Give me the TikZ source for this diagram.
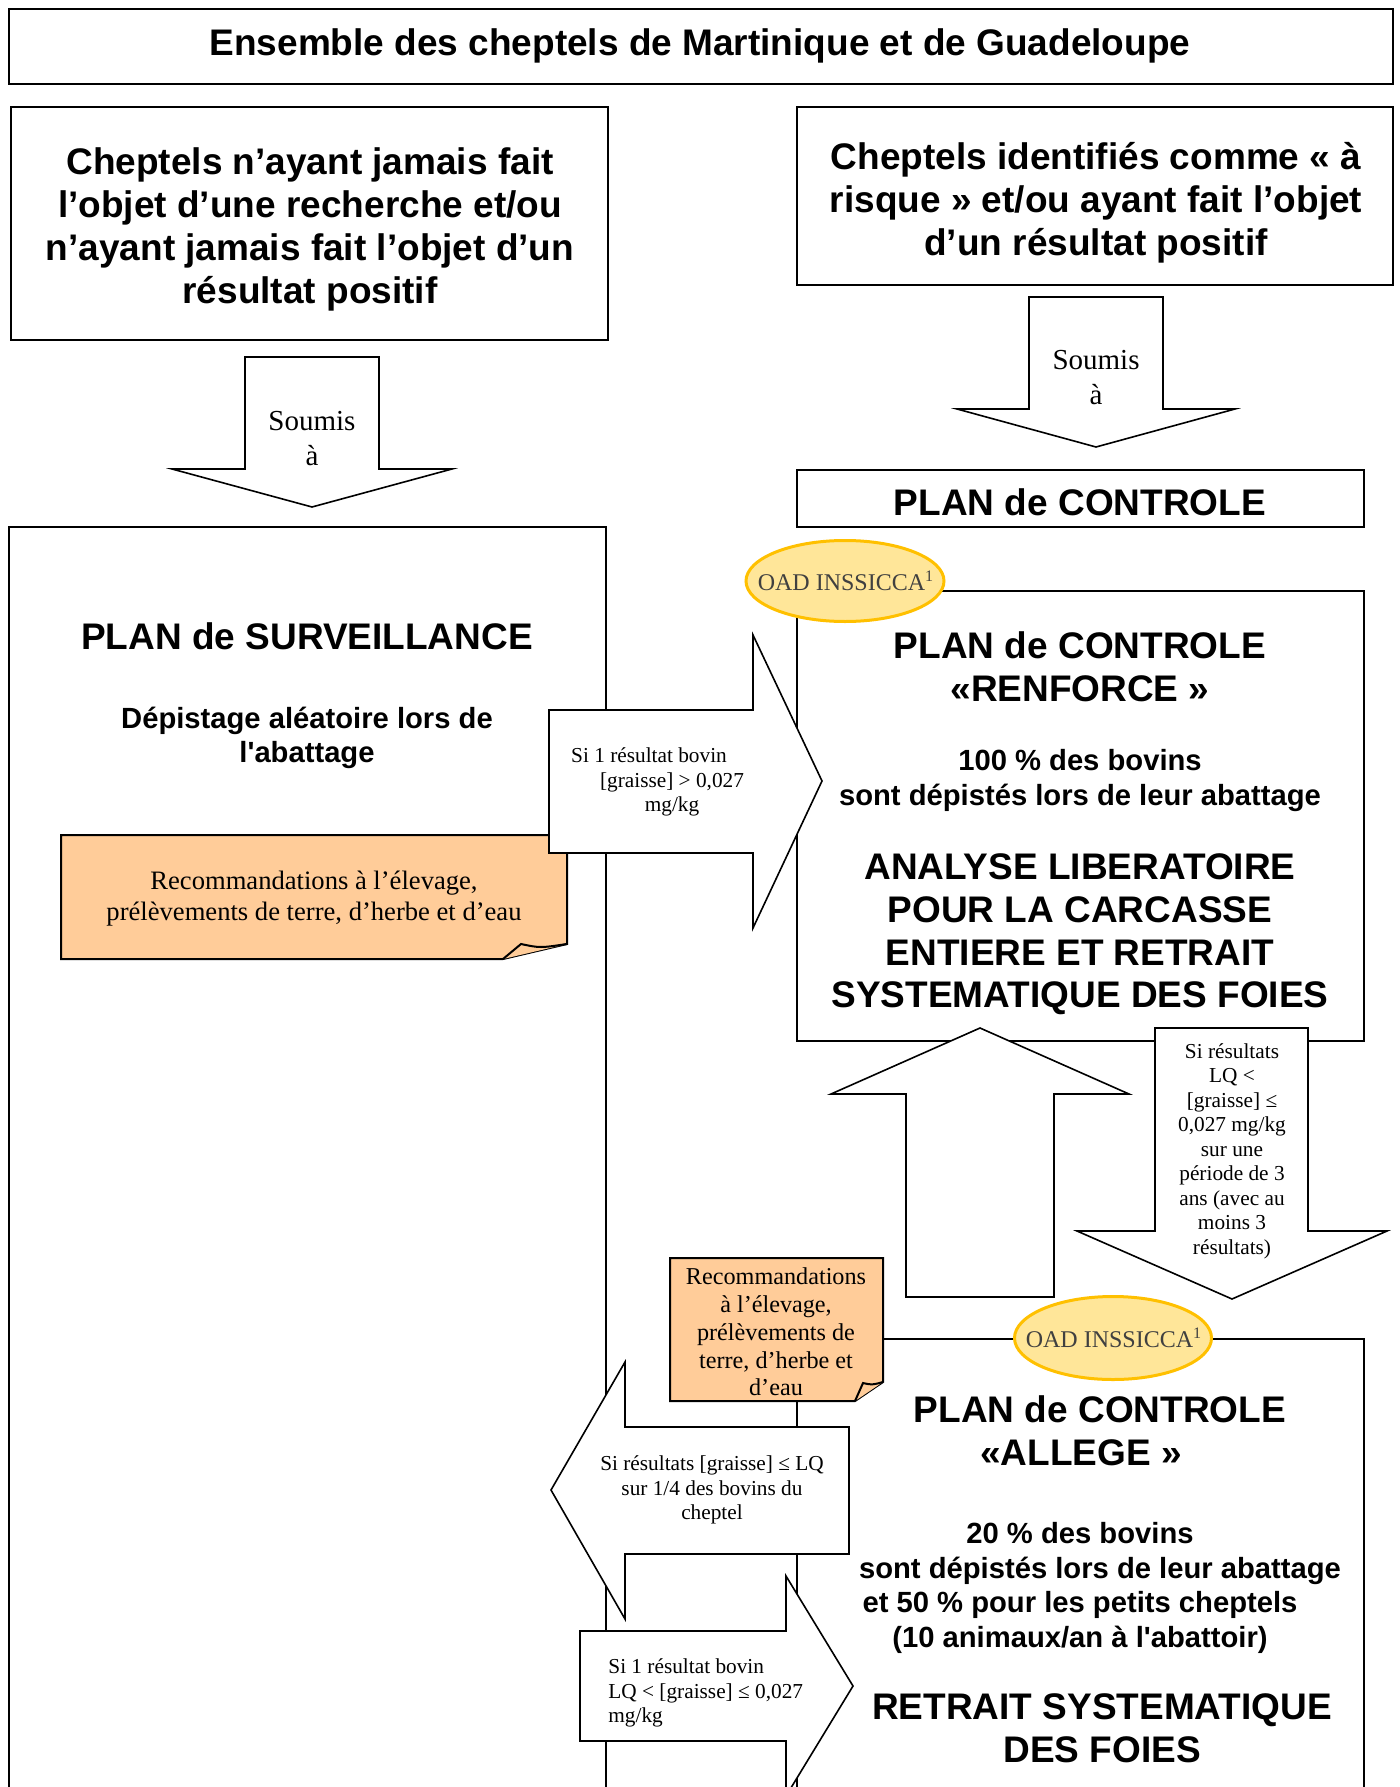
\documentclass[tikz,border=0pt]{standalone}
\usepackage{fontspec}
\setmainfont{Liberation Serif}
\newfontfamily\headfont{Liberation Sans}

\definecolor{noteorange}{HTML}{FFCC99}
\definecolor{oadfill}{HTML}{FFE699}
\definecolor{oadline}{HTML}{FFC000}
\definecolor{oadtext}{HTML}{404040}

\newcommand{\bighead}{\headfont\bfseries\fontsize{18.5}{21.4}\selectfont}
\newcommand{\midhead}{\headfont\bfseries\fontsize{14.6}{17.2}\selectfont}
\newcommand{\soumisfont}{\fontsize{14.5}{17.5}\selectfont}
\newcommand{\notefont}{\fontsize{13.3}{15.5}\selectfont}
\newcommand{\smallnotefont}{\fontsize{12.1}{13.9}\selectfont}
\newcommand{\calloutfont}{\fontsize{10.65}{12.25}\selectfont}

\begin{document}
\begin{tikzpicture}[x=0.5pt, y=-0.5pt,
  box/.style={draw, line width=0.75pt, fill=white},
  note/.style={draw, line width=1pt, fill=noteorange},
  blockarrow/.style={draw, line width=0.8pt, fill=white},
  oad/.style={draw=oadline, line width=1.5pt, fill=oadfill},
  oadlabel/.style={text=oadtext, inner sep=0pt, font=\fontsize{12}{14}\selectfont},
  txt/.style={align=center, inner sep=0pt}]
  \useasboundingbox (0,0) rectangle (1399,1787);
  \clip (0,0) rectangle (1399,1787);

  % top row
  \draw[box] (9,9) rectangle (1393,84);
  \draw[box] (11,107) rectangle (608,340);
  \draw[box] (797,107) rectangle (1393,285);

  % soumis arrows
  \draw[blockarrow] (245,357) -- (379,357) -- (379,469) -- (452,469) -- (312,507)
    -- (172,469) -- (245,469) -- cycle;
  \draw[blockarrow] (1029,297) -- (1163,297) -- (1163,409) -- (1235,409) -- (1096,447)
    -- (957,409) -- (1029,409) -- cycle;

  % plans
  \draw[box] (797,470) rectangle (1364,527);
  \draw[box] (9,527) rectangle (606,1800);
  \draw[box] (797,591) rectangle (1364,1041);
  \draw[box] (797,1339) rectangle (1364,1800);

  % recommandations
  \draw[note] (61,835) -- (567,835) -- (567,944) -- (503,959) -- (61,959) -- cycle;
  \draw[note] (503,959) -- (521,944) .. controls (540,948) .. (567,944);
  \draw[note] (670,1258) -- (883,1258) -- (883,1382) -- (855,1401) -- (670,1401) -- cycle;
  \draw[note] (855,1401) -- (863,1383) .. controls (872,1385) .. (883,1382);

  % OAD tags
  \draw[oad] (845,581) ellipse [x radius=99, y radius=40.5];
  \node[oadlabel] (oadrenf) at (846,581) {OAD INSSICCA\textsuperscript{1}};
  \draw[oad] (1113,1338) ellipse [x radius=98.5, y radius=41.5];
  \node[oadlabel] (oadallege) at (1114,1338) {OAD INSSICCA\textsuperscript{1}};

  % transitions
  \draw[blockarrow] (549,710) -- (753,710) -- (753,635) -- (822,781) -- (753,928)
    -- (753,853) -- (549,853) -- cycle;
  \draw[blockarrow] (906,1297) -- (906,1094) -- (831,1094) -- (980,1028) -- (1129,1094)
    -- (1054,1094) -- (1054,1297) -- cycle;
  \draw[blockarrow] (1155,1028) -- (1308,1028) -- (1308,1231) -- (1387,1231) -- (1232,1299)
    -- (1077,1231) -- (1155,1231) -- cycle;
  \draw[blockarrow] (849,1427) -- (625,1427) -- (625,1362) -- (551,1490) -- (625,1619)
    -- (625,1554) -- (849,1554) -- cycle;
  \draw[blockarrow] (580,1631) -- (786,1631) -- (786,1576) -- (853,1686) -- (786,1796)
    -- (786,1741) -- (580,1741) -- cycle;

  % texts
  \node[txt, font=\bighead] (title) at (700,46) {Ensemble des cheptels de Martinique et de Guadeloupe};
  \node[txt, font=\bighead] (jamais) at (310,229.5) {Cheptels n’ayant jamais fait\\l’objet d’une recherche et/ou\\n’ayant jamais fait l’objet d’un\\résultat positif};
  \node[txt, font=\bighead] (risque) at (1096,202.5) {Cheptels identifiés comme « à\\risque » et/ou ayant fait l’objet\\d’un résultat positif};
  \node[txt, font=\soumisfont] (soumisL) at (312,439) {Soumis\\à};
  \node[txt, font=\soumisfont] (soumisR) at (1096,378) {Soumis\\à};
  \node[txt, font=\bighead] (ctrlhead) at (1080,502) {PLAN de CONTROLE};
  \node[txt, font=\bighead] (survtitle) at (307,636) {PLAN de SURVEILLANCE};
  \node[txt, font=\midhead] (survtext) at (307,738) {Dépistage aléatoire lors de\\l\textquotesingle abattage};
  \node[txt, font=\notefont] (recoL) at (314,899) {Recommandations à l’élevage,\\prélèvements de terre, d’herbe et d’eau};
  \node[txt, font=\bighead] (renftitle) at (1080,667) {PLAN de CONTROLE\\«RENFORCE »};
  \node[txt, font=\midhead] (renftext) at (1080,780.5) {100 \% des bovins\\sont dépistés lors de leur abattage};
  \node[txt, font=\bighead] (renfrule) at (1080,934.5) {ANALYSE LIBERATOIRE\\POUR LA CARCASSE\\ENTIERE ET RETRAIT\\SYSTEMATIQUE DES FOIES};
  \node[txt, font=\calloutfont] (siplus) at (672,782) {Si 1 résultat bovin\hspace*{23pt}\\{[}graisse{]} > 0,027\\mg/kg};
  \node[txt, font=\calloutfont] (sitrois) at (1232,1151) {Si résultats\\LQ <\\{[}graisse{]} ≤\\0,027 mg/kg\\sur une\\période de 3\\ans (avec au\\moins 3\\résultats)};
  \node[txt, font=\smallnotefont] (recoR) at (776,1332) {Recommandations\\à l’élevage,\\prélèvements de\\terre, d’herbe et\\d’eau};
  \node[txt, font=\bighead] (alltitle) at (1100,1431) {PLAN de CONTROLE\\«ALLEGE »\hspace*{19pt}};
  \node[txt, font=\midhead] (alltext) at (1080,1588) {20 \% des bovins\\\hspace*{20pt}sont dépistés lors de leur abattage\\et 50 \% pour les petits cheptels\\(10 animaux/an à l\textquotesingle abattoir)};
  \node[txt, font=\bighead] (allrule) at (1102,1728) {RETRAIT SYSTEMATIQUE\\DES FOIES};
  \node[txt, font=\calloutfont] (siquart) at (712,1490) {Si résultats {[}graisse{]} ≤ LQ\\sur 1/4 des bovins du\\cheptel};
  \node[txt, font=\calloutfont, align=left, anchor=west] (silq) at (608,1693) {Si 1 résultat bovin\\LQ < {[}graisse{]} ≤ 0,027\\mg/kg};
\end{tikzpicture}
\end{document}
